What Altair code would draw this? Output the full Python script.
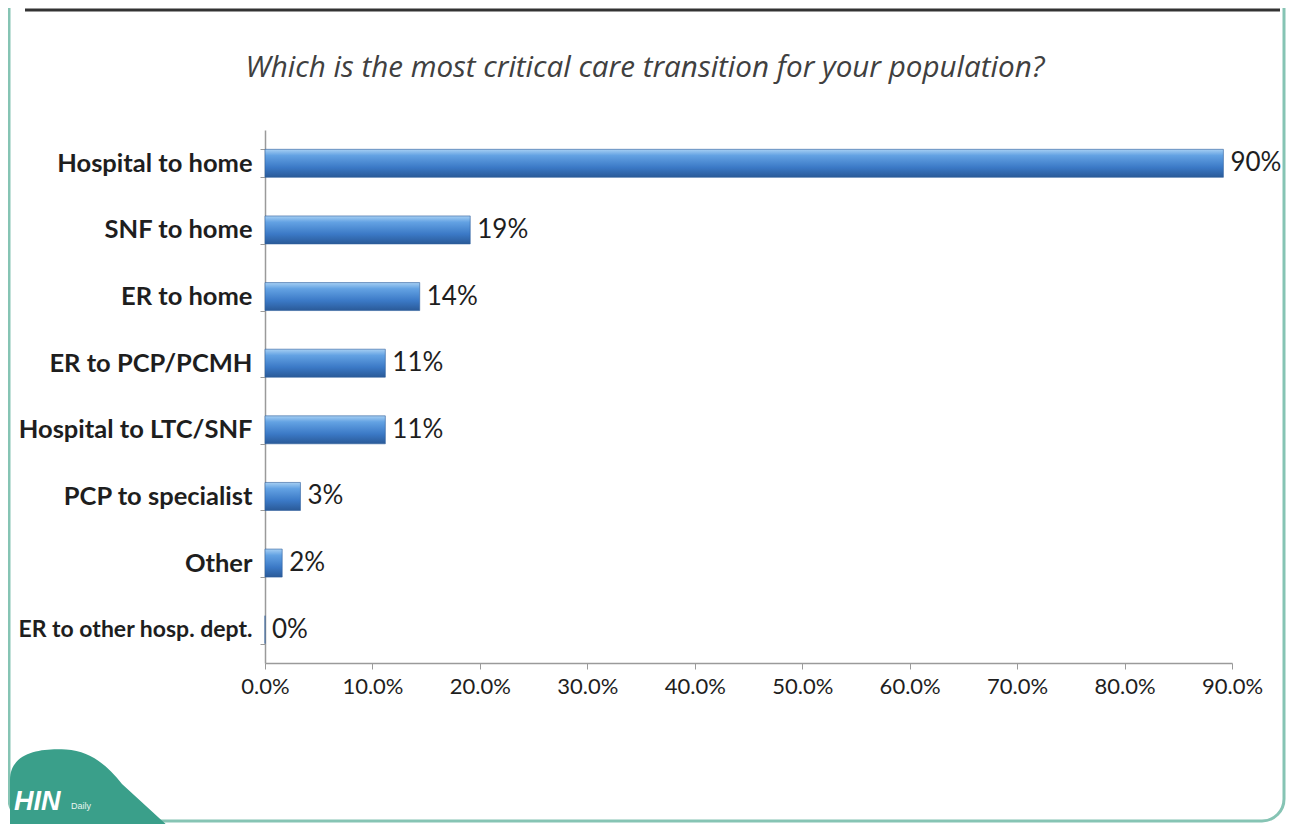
import altair as alt
import pandas as pd

categories = ["Hospital to home", "SNF to home", "ER to home", "ER to PCP/PCMH",
              "Hospital to LTC/SNF", "PCP to specialist", "Other", "ER to other hosp. dept."]
values = [89.2, 19.1, 14.4, 11.2, 11.2, 3.3, 1.6, 0.0]
value_labels = ["90%", "19%", "14%", "11%", "11%", "3%", "2%", "0%"]
x_ticks = [0, 10, 20, 30, 40, 50, 60, 70, 80, 90]
title_text = "Which is the most critical care transition for your population?"

df = pd.DataFrame({"cat": categories, "val": values, "lab": value_labels})
one = pd.DataFrame({"a": [0]})

gradient = alt.LinearGradient(
    gradient="linear",
    stops=[
        alt.GradientStop(offset=0, color="#a6cff3"),
        alt.GradientStop(offset=0.22, color="#63a2e3"),
        alt.GradientStop(offset=0.65, color="#3b79c6"),
        alt.GradientStop(offset=1, color="#2a5a98"),
    ],
    x1=0, x2=0, y1=0, y2=1,
)

long_label_test = "datum.value == 'ER to other hosp. dept.'"

y_enc = alt.Y(
    "cat:N", sort=categories, title=None,
    scale=alt.Scale(paddingInner=0.58, paddingOuter=0.29),
    axis=alt.Axis(
        tickBand="extent", ticks=True, tickSize=5, tickColor="#9a9a9a",
        domainColor="#9a9a9a", domainWidth=1.5, labelFont="Lato", labelFontWeight="bold",
        labelFontSize={"condition": {"test": long_label_test, "value": 23}, "value": 25.5},
        labelColor="#1e1e1e", labelPadding=8, labelLimit=400,
    ),
)
x_enc = alt.X(
    "val:Q", title=None,
    scale=alt.Scale(domain=[0, 90], nice=False),
    axis=alt.Axis(
        values=x_ticks, grid=False, tickSize=6, tickColor="#9a9a9a",
        domainColor="#9a9a9a", domainWidth=1.5, labelFont="Lato", labelFontSize=22,
        labelColor="#1e1e1e", labelPadding=7, labelOverlap=False, labelFlush=False,
        labelExpr="format(datum.value / 100, '.1%')",
    ),
)

bars = alt.Chart(df).mark_bar(color=gradient, stroke="#2d5e9c", strokeWidth=0.6).encode(
    x=x_enc, y=y_enc
)
texts = alt.Chart(df).mark_text(
    align="left", baseline="middle", dx=7, font="Lato", fontSize=26, color="#1e1e1e"
).encode(x="val:Q", y=alt.Y("cat:N", sort=categories), text="lab:N")

title = alt.Chart(one).mark_text(
    text=title_text, font="Open Sans", fontStyle="italic", fontSize=29.6, color="#404040",
    align="center", baseline="middle",
).encode(x=alt.value(380), y=alt.value(-62))

top_line = alt.Chart(one).mark_rule(color="#333333", strokeWidth=3).encode(
    x=alt.value(-240), x2=alt.value(1015), y=alt.value(-120)
)

border = alt.Chart(one).mark_rect(
    filled=False, stroke="#86c4b4", strokeWidth=3, cornerRadius=22
).encode(x=alt.value(-256), x2=alt.value(1019), y=alt.value(-200), y2=alt.value(691))

logo = alt.Chart(one).mark_point(
    shape="M -1 0.5 L -1 -0.1 C -1 -0.45 -0.6 -0.5 -0.3 -0.48 C 0 -0.46 0.2 -0.3 0.4 -0.05 L 1 0.5 Z",
    filled=True, color="#3a9f8a", opacity=1, size=25600,
).encode(x=alt.value(-175), y=alt.value(658))

logo_text = alt.Chart(one).mark_text(
    text="HIN", font="Liberation Sans", fontWeight="bold", fontStyle="italic", fontSize=27,
    color="white", align="left", baseline="middle",
).encode(x=alt.value(-251), y=alt.value(672))

logo_small = alt.Chart(one).mark_text(
    text="Daily", font="Liberation Sans", fontSize=9, color="#e8f5f0",
    align="left", baseline="middle",
).encode(x=alt.value(-194), y=alt.value(676))

chart = alt.layer(border, top_line, title, bars, texts, logo, logo_text, logo_small).properties(
    width=967, height=533,
    autosize=alt.AutoSizeParams(type="none"),
    padding={"left": 257, "top": 122, "right": 54, "bottom": 161},
).configure(background="white").configure_view(strokeWidth=0, stroke="transparent")

chart.save("out.html", embed_options={"renderer": "svg", "actions": False})
